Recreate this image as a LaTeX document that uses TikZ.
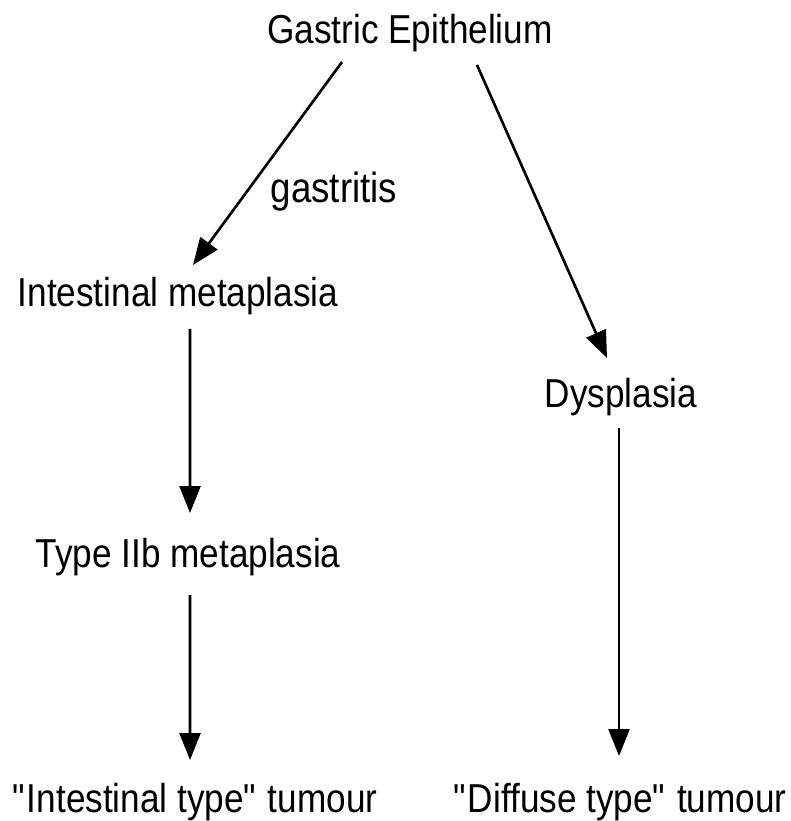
\documentclass[tikz,border=0pt]{standalone}
\usepackage{fontspec}
\setmainfont{Liberation Sans}[FakeStretch=0.87]
\usepackage{tikz}
\usetikzlibrary{arrows.meta, positioning}

\begin{document}
\begin{tikzpicture}[
    stage/.style={inner sep=0pt, anchor=base, font=\fontsize{11.5}{13}\selectfont},
    arrow/.style={-{Triangle[length=2.7mm, width=2.1mm]}, line width=0.75pt}
]
    \useasboundingbox (0,0) rectangle (7.9,-8.21);

    % Top
    \node[stage] (epi) at (4.10,-0.44) {Gastric Epithelium};

    % Intestinal branch
    \node[stage] (intmeta) at (1.78,-3.07) {Intestinal metaplasia};
    \node[stage] (typeIIb) at (1.88,-5.67) {Type IIb metaplasia};
    \node[stage] (inttum) at (1.95,-8.12) {\textquotedbl Intestinal type\textquotedbl{} tumour};

    % Diffuse branch
    \node[stage] (dysp) at (6.21,-4.07) {Dysplasia};
    \node[stage] (diftum) at (6.20,-8.12) {\textquotedbl Diffuse type\textquotedbl{} tumour};

    % Arrows
    \draw[arrow] ([shift={(-0.68,-0.18)}]epi.base) -- ([shift={(0.15,0.42)}]intmeta.base);
    \node[stage, anchor=base west, font=\fontsize{12}{13}\selectfont] (gast) at (2.70,-2.03) {gastritis};
    \draw[arrow] ([shift={(0.67,-0.21)}]epi.base) -- ([shift={(-0.14,0.49)}]dysp.base);
    \draw[arrow] ([shift={(0.12,-0.22)}]intmeta.base) -- ([shift={(0.02,0.54)}]typeIIb.base);
    \draw[arrow] ([shift={(0.02,-0.28)}]typeIIb.base) -- ([shift={(-0.05,0.52)}]inttum.base);
    \draw[arrow] ([shift={(-0.02,-0.21)}]dysp.base) -- ([shift={(-0.01,0.56)}]diftum.base);

\end{tikzpicture}
\end{document}
